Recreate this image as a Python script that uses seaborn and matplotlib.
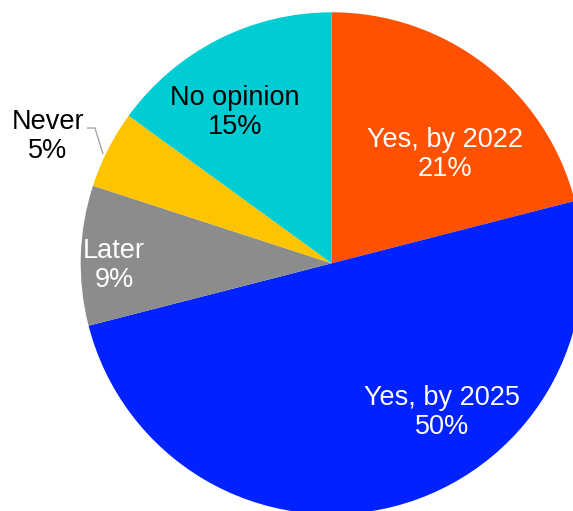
import matplotlib
matplotlib.use("Agg")
import matplotlib.pyplot as plt
import seaborn as sns

# Survey answers and their shares (percent)
categories = ["Yes, by 2022", "Yes, by 2025", "Later", "Never", "No opinion"]
shares = [21, 50, 9, 5, 15]
slice_colors = ["#FF5100", "#0022FF", "#8C8C8C", "#FFC400", "#00CDD3"]
text_colors = ["white", "white", "white", "black", "black"]

sns.set_theme(style="white")
plt.rcParams["font.family"] = ["Liberation Sans", "DejaVu Sans"]

W, H, DPI = 573, 511, 100
fig = plt.figure(figsize=(W / DPI, H / DPI), dpi=DPI)
ax = fig.add_axes([0, 0, 1, 1])

# Pie geometry in pixels: centre and radius, so the pie runs past the right and bottom edges
cx, cy, rad = 331.7, 263.3, 251.0

wedges, _ = ax.pie(
    shares,
    colors=slice_colors,
    startangle=90,
    counterclock=False,
    radius=1.0,
    center=(0, 0),
    frame=True,
    wedgeprops=dict(edgecolor="none", linewidth=0),
)
ax.set_xlim((0 - cx) / rad, (W - cx) / rad)
ax.set_ylim((cy - H) / rad, (cy - 0) / rad)
ax.set_aspect("auto")
ax.axis("off")

# Label anchor points (in pie-radius units)
label_pos = [
    (0.450, 0.433),
    (0.439, -0.596),
    (-0.867, -0.007),
    (-1.130, 0.507),
    (-0.385, 0.600),
]
for name, val, (lx, ly), tc in zip(categories, shares, label_pos, text_colors):
    ax.text(lx, ly, f"{name}\n{val}%", ha="center", va="center",
            fontsize=19.5, color=tc, linespacing=1.15)

# Leader line for the small "Never" slice
ax.plot([-0.975, -0.943, -0.911], [0.539, 0.539, 0.435],
        color="#A6A6A6", lw=1.0, solid_capstyle="butt")

fig.savefig("out.png", dpi=DPI)
